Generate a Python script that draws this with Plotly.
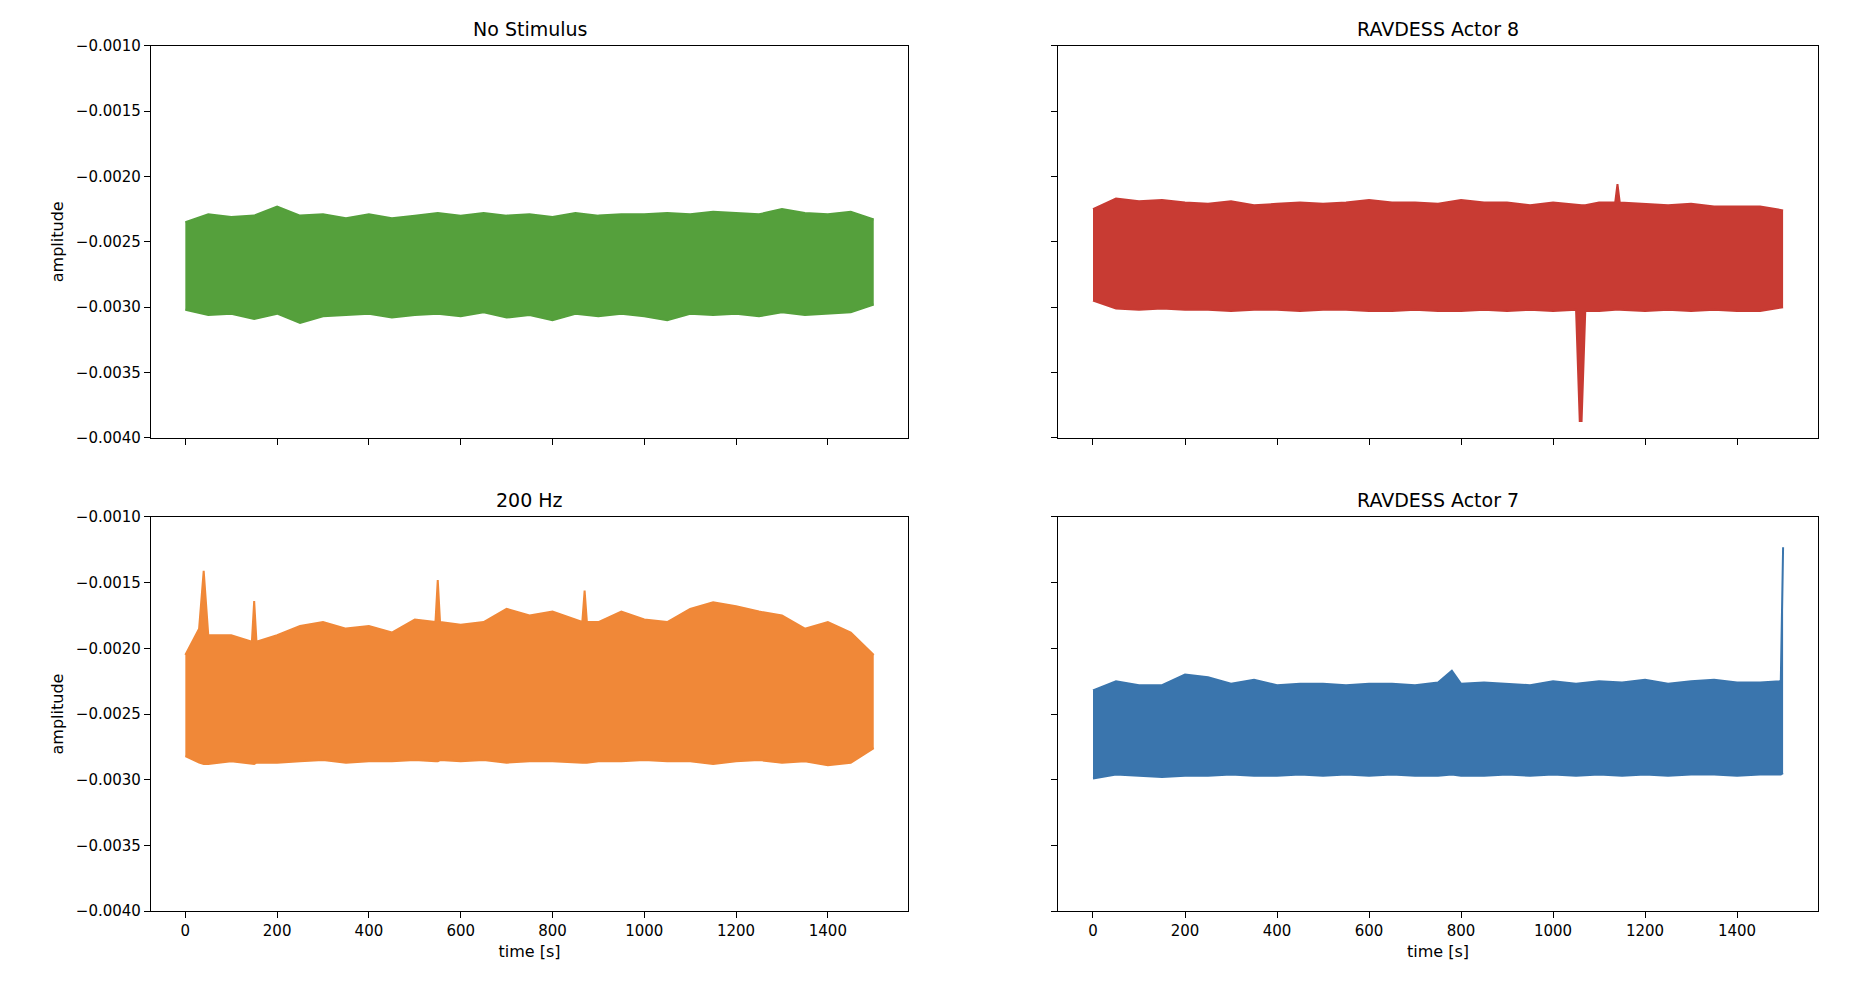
import plotly.graph_objects as go

x_green = [0, 50, 100, 150, 200, 250, 300, 350, 400, 450, 500, 550, 600, 650, 700, 750, 800, 850, 900, 950, 1000, 1050, 1100, 1150, 1200, 1250, 1300, 1350, 1400, 1450, 1500]
up_green = [-0.00235, -0.00229, -0.00231, -0.00230, -0.00223, -0.00230, -0.00229, -0.00232, -0.00229, -0.00232, -0.00230, -0.00228, -0.00230, -0.00228, -0.00230, -0.00229, -0.00231, -0.00228, -0.00230, -0.00229, -0.00229, -0.00228, -0.00229, -0.00227, -0.00228, -0.00229, -0.00225, -0.00228, -0.00229, -0.00227, -0.00233]
lo_green = [-0.00302, -0.00306, -0.00305, -0.00309, -0.00305, -0.00312, -0.00307, -0.00306, -0.00305, -0.00308, -0.00306, -0.00305, -0.00307, -0.00304, -0.00308, -0.00306, -0.00310, -0.00305, -0.00307, -0.00305, -0.00307, -0.00310, -0.00305, -0.00306, -0.00305, -0.00307, -0.00304, -0.00306, -0.00305, -0.00304, -0.00298]

x_red = [0, 50, 100, 150, 200, 250, 300, 350, 400, 450, 500, 550, 600, 650, 700, 750, 800, 850, 900, 950, 1000, 1050, 1058, 1062, 1070, 1100, 1135, 1140, 1145, 1200, 1250, 1300, 1350, 1400, 1450, 1500]
up_red = [-0.00225, -0.00217, -0.00219, -0.00218, -0.00220, -0.00221, -0.00219, -0.00222, -0.00221, -0.00220, -0.00221, -0.00220, -0.00218, -0.00220, -0.00220, -0.00221, -0.00218, -0.00220, -0.00220, -0.00222, -0.00220, -0.00222, -0.00222, -0.00222, -0.00222, -0.00220, -0.00220, -0.00206, -0.00220, -0.00221, -0.00222, -0.00221, -0.00223, -0.00223, -0.00223, -0.00226]
lo_red = [-0.00295, -0.00301, -0.00302, -0.00301, -0.00302, -0.00302, -0.00303, -0.00302, -0.00302, -0.00303, -0.00302, -0.00302, -0.00303, -0.00303, -0.00302, -0.00303, -0.00303, -0.00302, -0.00303, -0.00302, -0.00303, -0.00302, -0.00387, -0.00387, -0.00303, -0.00303, -0.00302, -0.00302, -0.00302, -0.00303, -0.00302, -0.00303, -0.00302, -0.00303, -0.00303, -0.00300]

x_orange = [0, 30, 40, 50, 100, 145, 150, 155, 200, 250, 300, 350, 400, 450, 500, 545, 550, 555, 600, 650, 700, 750, 800, 865, 870, 875, 900, 950, 1000, 1050, 1100, 1150, 1200, 1250, 1300, 1350, 1400, 1450, 1500]
up_orange = [-0.00205, -0.00185, -0.00141, -0.00190, -0.00190, -0.00195, -0.00164, -0.00195, -0.00190, -0.00183, -0.00180, -0.00185, -0.00183, -0.00188, -0.00178, -0.00180, -0.00148, -0.00180, -0.00182, -0.00180, -0.00170, -0.00175, -0.00172, -0.00180, -0.00156, -0.00180, -0.00180, -0.00172, -0.00178, -0.00180, -0.00170, -0.00165, -0.00168, -0.00172, -0.00175, -0.00185, -0.00180, -0.00188, -0.00205]
lo_orange = [-0.00282, -0.00287, -0.00288, -0.00288, -0.00286, -0.00288, -0.00288, -0.00287, -0.00287, -0.00286, -0.00285, -0.00287, -0.00286, -0.00286, -0.00285, -0.00286, -0.00286, -0.00285, -0.00286, -0.00285, -0.00287, -0.00286, -0.00286, -0.00287, -0.00287, -0.00287, -0.00286, -0.00286, -0.00285, -0.00286, -0.00286, -0.00288, -0.00286, -0.00285, -0.00287, -0.00286, -0.00289, -0.00287, -0.00276]

x_blue = [0, 50, 100, 150, 200, 250, 300, 350, 400, 450, 500, 550, 600, 650, 700, 750, 780, 800, 850, 900, 950, 1000, 1050, 1100, 1150, 1200, 1250, 1300, 1350, 1400, 1450, 1495, 1500]
up_blue = [-0.00232, -0.00225, -0.00228, -0.00228, -0.00220, -0.00222, -0.00227, -0.00224, -0.00228, -0.00227, -0.00227, -0.00228, -0.00227, -0.00227, -0.00228, -0.00226, -0.00217, -0.00227, -0.00226, -0.00227, -0.00228, -0.00225, -0.00227, -0.00225, -0.00226, -0.00224, -0.00227, -0.00225, -0.00224, -0.00226, -0.00226, -0.00225, -0.00123]
lo_blue = [-0.00299, -0.00296, -0.00297, -0.00298, -0.00297, -0.00297, -0.00296, -0.00297, -0.00297, -0.00296, -0.00297, -0.00296, -0.00297, -0.00296, -0.00297, -0.00297, -0.00296, -0.00297, -0.00297, -0.00296, -0.00297, -0.00296, -0.00297, -0.00296, -0.00297, -0.00296, -0.00297, -0.00296, -0.00296, -0.00297, -0.00296, -0.00296, -0.00295]

titles = ["No Stimulus", "RAVDESS Actor 8", "200 Hz", "RAVDESS Actor 7"]
colors = ["#55a03c", "#c83b33", "#f08838", "#3a75ad"]
panels = [(x_green, up_green, lo_green), (x_red, up_red, lo_red),
          (x_orange, up_orange, lo_orange), (x_blue, up_blue, lo_blue)]

xdoms = [[0.077, 0.485], [0.566, 0.975]]
ydoms = [[0.574, 0.971], [0.095, 0.494]]

fig = go.Figure()
layout = dict(width=1856, height=1006, paper_bgcolor="white", plot_bgcolor="white",
              margin=dict(l=0, r=0, t=0, b=0), showlegend=False,
              font=dict(family="DejaVu Sans", size=15, color="black"))
ann = []
for i, (xs, up, lo) in enumerate(panels):
    r, c = divmod(i, 2)
    n = "" if i == 0 else str(i + 1)
    xa, ya = "x" + n, "y" + n
    fig.add_trace(go.Scatter(x=xs, y=lo, mode="lines", line=dict(color=colors[i], width=2),
                             xaxis=xa, yaxis=ya, hoverinfo="skip"))
    fig.add_trace(go.Scatter(x=xs, y=up, mode="lines", line=dict(color=colors[i], width=2),
                             fill="tonexty", fillcolor=colors[i], xaxis=xa, yaxis=ya))
    common = dict(showline=True, linecolor="black", linewidth=1, mirror=True, ticks="outside",
                  ticklen=6, tickcolor="black", showgrid=False, zeroline=False,
                  tickfont=dict(size=15))
    layout["xaxis" + n] = dict(common, domain=xdoms[c], range=[-75, 1575], dtick=200,
                               anchor=ya, showticklabels=(r == 1),
                               title=dict(text="time [s]" if r == 1 else "", font=dict(size=16), standoff=6))
    layout["yaxis" + n] = dict(common, domain=ydoms[r], range=[-0.004, -0.001], dtick=0.0005,
                               tickformat=".4f", anchor=xa, showticklabels=(c == 0),
                               title=dict(text="amplitude" if c == 0 else "", font=dict(size=16), standoff=8))
    ann.append(dict(text=titles[i], x=sum(xdoms[c]) / 2, y=ydoms[r][1], xref="paper", yref="paper",
                    xanchor="center", yanchor="bottom", yshift=4, showarrow=False, font=dict(size=19)))
layout["annotations"] = ann
fig.update_layout(**layout)
fig.write_html("out.html")
